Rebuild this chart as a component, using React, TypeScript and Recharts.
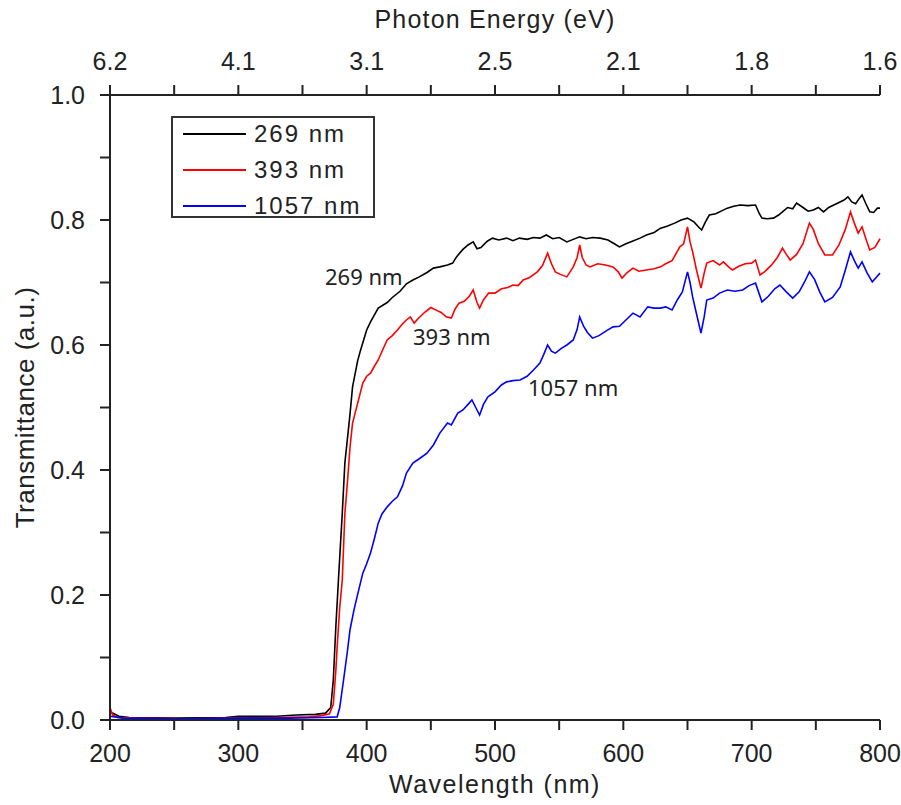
import React from 'react'
import { LineChart, Line, XAxis, YAxis, Label } from 'recharts'

// axis ticks and labels
const wlTicks = [200, 250, 300, 350, 400, 450, 500, 550, 600, 650, 700, 750, 800]
const energyLabels = ['6.2', '4.1', '3.1', '2.5', '2.1', '1.8', '1.6']
const tTicks = [0, 0.1, 0.2, 0.3, 0.4, 0.5, 0.6, 0.7, 0.8, 0.9, 1.0]
const seriesNames = ['269 nm', '393 nm', '1057 nm']
const seriesColors = ['#000000', '#ff0000', '#0000ff']

// 269 nm film
const wl269 = [200, 203, 207, 215, 250, 290, 300, 330, 345, 360, 368, 372, 374, 376, 378, 381, 383, 387, 389, 393, 395, 400, 403, 409, 416, 420, 426, 431, 436, 441, 447, 452, 457, 463, 467, 470, 475, 479, 483, 486, 489, 494, 498, 503, 509, 514, 519, 525, 530, 535, 540, 545, 550, 556, 561, 566, 571, 576, 582, 588, 593, 597, 602, 607, 613, 618, 624, 629, 634, 640, 645, 650, 655, 659, 661, 664, 667, 672, 677, 681, 686, 691, 697, 703, 706, 708, 712, 717, 721, 724, 728, 732, 735, 740, 744, 748, 752, 756, 760, 764, 768, 772, 775, 778, 781, 784, 786, 789, 792, 795, 798, 800]
const t269 = [0.013, 0.01, 0.006, 0.004, 0.003, 0.004, 0.006, 0.006, 0.008, 0.009, 0.011, 0.02, 0.064, 0.15, 0.224, 0.331, 0.411, 0.489, 0.533, 0.575, 0.59, 0.624, 0.637, 0.659, 0.668, 0.676, 0.686, 0.698, 0.704, 0.709, 0.716, 0.723, 0.725, 0.728, 0.731, 0.741, 0.753, 0.76, 0.765, 0.754, 0.756, 0.766, 0.771, 0.768, 0.771, 0.767, 0.771, 0.769, 0.772, 0.771, 0.776, 0.77, 0.772, 0.765, 0.769, 0.773, 0.77, 0.772, 0.771, 0.768, 0.762, 0.757, 0.762, 0.766, 0.771, 0.776, 0.78, 0.787, 0.79, 0.795, 0.8, 0.803, 0.797, 0.788, 0.784, 0.797, 0.808, 0.81, 0.815, 0.819, 0.822, 0.824, 0.823, 0.824, 0.81, 0.803, 0.802, 0.803, 0.808, 0.813, 0.82, 0.818, 0.827, 0.82, 0.814, 0.816, 0.82, 0.813, 0.82, 0.824, 0.828, 0.832, 0.837, 0.829, 0.826, 0.835, 0.84, 0.826, 0.813, 0.812, 0.819, 0.819]

// 393 nm film
const wl393 = [200, 202, 206, 220, 260, 300, 330, 355, 365, 371, 374, 376, 377, 379, 381, 383, 385, 387, 389, 393, 397, 400, 403, 406, 409, 412, 416, 420, 424, 428, 431, 434, 437, 440, 445, 450, 455, 458, 462, 466, 469, 472, 476, 480, 483, 486, 488, 491, 495, 500, 505, 510, 514, 518, 522, 527, 533, 537, 541, 544, 547, 551, 556, 561, 564, 566, 568, 571, 574, 580, 586, 592, 596, 599, 603, 607.5, 612, 618, 624, 629, 633, 638, 644, 647, 650, 652, 654, 657, 660.5, 663, 665, 670, 675, 678, 682, 685, 690, 695, 700, 703, 706.5, 710, 715, 720, 724, 727, 730, 735, 740, 745, 748, 752, 757, 763, 768, 773, 777, 780, 783, 786, 789, 792, 796, 800]
const t393 = [0.02, 0.008, 0.004, 0.003, 0.002, 0.003, 0.004, 0.005, 0.007, 0.01, 0.025, 0.08, 0.117, 0.18, 0.224, 0.33, 0.38, 0.436, 0.475, 0.507, 0.539, 0.55, 0.555, 0.566, 0.576, 0.59, 0.608, 0.615, 0.624, 0.634, 0.64, 0.645, 0.635, 0.642, 0.652, 0.66, 0.655, 0.652, 0.645, 0.643, 0.658, 0.667, 0.67, 0.678, 0.688, 0.668, 0.659, 0.672, 0.683, 0.683, 0.69, 0.692, 0.696, 0.695, 0.704, 0.708, 0.717, 0.727, 0.747, 0.73, 0.717, 0.713, 0.709, 0.725, 0.74, 0.76, 0.74, 0.728, 0.725, 0.73, 0.728, 0.725, 0.717, 0.707, 0.716, 0.723, 0.718, 0.72, 0.722, 0.725, 0.73, 0.735, 0.757, 0.762, 0.789, 0.765, 0.749, 0.72, 0.691, 0.715, 0.731, 0.735, 0.728, 0.733, 0.725, 0.72, 0.726, 0.73, 0.731, 0.736, 0.712, 0.717, 0.727, 0.74, 0.755, 0.745, 0.736, 0.745, 0.762, 0.795, 0.785, 0.762, 0.744, 0.744, 0.76, 0.785, 0.813, 0.795, 0.779, 0.789, 0.77, 0.752, 0.756, 0.77]

// 1057 nm film
const wl1057 = [200, 210, 250, 300, 340, 365, 377, 379, 382, 385, 387, 390, 392.5, 397, 400, 403, 406, 409, 412, 416, 420, 424, 428, 431, 436, 441, 447, 452, 457, 463, 466, 471, 475, 479, 482, 485, 488, 491, 494.5, 500, 505, 509, 514, 519.5, 525, 530, 535, 538, 541, 544, 547, 552, 556, 561, 564, 566, 569, 572, 576, 581, 587, 592, 597, 602, 607.5, 613, 619, 624, 629, 633, 638, 642, 646, 650, 652, 654, 657, 660.5, 663, 665, 670, 675, 681, 687, 693, 698, 703, 708, 713, 718, 722, 727, 732, 737, 741, 745, 749, 753, 757, 763, 769, 773, 777, 780, 783, 786, 790, 794, 797, 800]
const t1057 = [0.006, 0.003, 0.002, 0.003, 0.003, 0.004, 0.005, 0.02, 0.064, 0.11, 0.144, 0.175, 0.197, 0.235, 0.25, 0.267, 0.29, 0.315, 0.33, 0.341, 0.35, 0.357, 0.375, 0.395, 0.411, 0.418, 0.427, 0.44, 0.459, 0.475, 0.472, 0.491, 0.496, 0.505, 0.512, 0.5, 0.488, 0.505, 0.517, 0.525, 0.536, 0.541, 0.543, 0.544, 0.55, 0.56, 0.571, 0.585, 0.6, 0.59, 0.587, 0.595, 0.6, 0.608, 0.625, 0.645, 0.63, 0.62, 0.611, 0.615, 0.623, 0.629, 0.63, 0.64, 0.651, 0.645, 0.661, 0.659, 0.659, 0.661, 0.656, 0.672, 0.685, 0.717, 0.7, 0.677, 0.65, 0.619, 0.645, 0.672, 0.675, 0.683, 0.688, 0.686, 0.688, 0.695, 0.699, 0.669, 0.678, 0.69, 0.696, 0.685, 0.675, 0.685, 0.7, 0.717, 0.705, 0.685, 0.669, 0.676, 0.693, 0.72, 0.749, 0.735, 0.723, 0.733, 0.715, 0.701, 0.708, 0.715]

const series = [
  { wl: wl269, t: t269 },
  { wl: wl393, t: t393 },
  { wl: wl1057, t: t1057 },
].map((s) => s.wl.map((w, i) => ({ wl: w, t: s.t[i] })))

const FONT = '"Liberation Sans", Arial, sans-serif'
const AX = '#222'
const TXT = '#222'
const TICK = 10
const tickLineStyle = { stroke: AX, strokeWidth: 2 }

const isMajorWl = (v: number) => v % 100 === 0
const isMajorT = (v: number) => Math.round(v * 10) % 2 === 0

// only the labels are custom, tick marks come from recharts
const bottomLabel = (p: any) => {
  const v = p.payload.value
  return (
    <g key={`b${v}`}>
      {isMajorWl(v) && (
        <text x={Number(p.x)} y={Number(p.y) + 32} textAnchor="middle" fill={TXT} fontSize={25} fontFamily={FONT}>
          {v}
        </text>
      )}
    </g>
  )
}

const topLabel = (p: any) => {
  const v = p.payload.value
  return (
    <g key={`t${v}`}>
      {isMajorWl(v) && (
        <text x={Number(p.x)} y={Number(p.y) - 15} textAnchor="middle" fill={TXT} fontSize={25} fontFamily={FONT}>
          {energyLabels[Math.round((v - 200) / 100)]}
        </text>
      )}
    </g>
  )
}

const leftLabel = (p: any) => {
  const v = p.payload.value
  return (
    <g key={`l${v}`}>
      {isMajorT(v) && (
        <text x={Number(p.x) - 15} y={Number(p.y) + 9} textAnchor="end" fill={TXT} fontSize={25} fontFamily={FONT}>
          {v.toFixed(1)}
        </text>
      )}
    </g>
  )
}

const noLabel = (p: any) => <g key={`r${p.payload.value}`} />

const App: React.FC = () => {
  return (
    <div style={{ position: 'fixed', left: 0, top: 0, width: 901, height: 805, background: '#fff' }}>
      <LineChart width={901} height={805} margin={{ top: 0, right: 21, bottom: 0, left: 0 }} data={series[0]}>
        <XAxis
          xAxisId="wl"
          dataKey="wl"
          type="number"
          domain={[200, 800]}
          ticks={wlTicks}
          interval={0}
          height={85}
          tickSize={TICK}
          tickMargin={0}
          tickLine={tickLineStyle}
          stroke={AX}
          strokeWidth={2}
          tick={bottomLabel}
        >
          <Label
            value="Wavelength (nm)"
            position="insideBottom"
            offset={12}
            style={{ fontFamily: FONT, fontSize: 25, letterSpacing: 1.5, fill: TXT }}
          />
        </XAxis>
        <XAxis
          xAxisId="top"
          dataKey="wl"
          orientation="top"
          type="number"
          domain={[200, 800]}
          ticks={wlTicks}
          interval={0}
          height={95}
          tickSize={TICK}
          tickMargin={0}
          tickLine={tickLineStyle}
          stroke={AX}
          strokeWidth={2}
          tick={topLabel}
        >
          <Label
            value="Photon Energy (eV)"
            position="insideTop"
            offset={10}
            style={{ fontFamily: FONT, fontSize: 25, letterSpacing: 1.2, fill: TXT }}
          />
        </XAxis>
        <YAxis
          yAxisId="t"
          type="number"
          domain={[0, 1]}
          ticks={tTicks}
          interval={0}
          width={110}
          tickSize={TICK}
          tickMargin={0}
          tickLine={tickLineStyle}
          stroke={AX}
          strokeWidth={2}
          tick={leftLabel}
        >
          <Label
            value="Transmittance (a.u.)"
            angle={-90}
            position="insideLeft"
            offset={25}
            style={{ fontFamily: FONT, fontSize: 26, letterSpacing: 0.5, fill: TXT, textAnchor: 'middle' }}
          />
        </YAxis>
        <YAxis
          yAxisId="r"
          orientation="right"
          mirror
          type="number"
          domain={[0, 1]}
          ticks={tTicks}
          interval={0}
          width={0}
          tickSize={TICK}
          tickMargin={0}
          tickLine={tickLineStyle}
          stroke={AX}
          strokeWidth={2}
          tick={noLabel}
        />
        {/* invisible copy so the top / right frame axes get a scale */}
        <Line
          xAxisId="top"
          yAxisId="r"
          dataKey="t"
          stroke="none"
          dot={false}
          activeDot={false}
          isAnimationActive={false}
        />
        {series.map((d, i) => (
          <Line
            key={seriesNames[i]}
            xAxisId="wl"
            yAxisId="t"
            data={d}
            dataKey="t"
            type="linear"
            stroke={seriesColors[i]}
            strokeWidth={1.6}
            dot={false}
            activeDot={false}
            isAnimationActive={false}
          />
        ))}
      </LineChart>

      {/* legend box */}
      <div
        style={{
          position: 'absolute',
          left: 171,
          top: 116,
          width: 204,
          height: 102,
          border: '2px solid #333',
          background: '#fff',
          boxSizing: 'border-box',
        }}
      >
        {seriesNames.map((name, i) => (
          <div
            key={name}
            style={{ position: 'absolute', left: 10, top: i * 36, height: 32, display: 'flex', alignItems: 'center' }}
          >
            <div style={{ width: 63, height: 2, background: seriesColors[i] }} />
            <span
              style={{ marginLeft: 8, fontFamily: FONT, fontSize: 24, letterSpacing: 2, color: TXT, lineHeight: '32px' }}
            >
              {name}
            </span>
          </div>
        ))}
      </div>

      {/* curve annotations */}
      <svg width={901} height={805} style={{ position: 'absolute', left: 0, top: 0, pointerEvents: 'none' }}>
        <text x={325} y={285} fontFamily='"Noto Sans", sans-serif' fontSize={22} fill="#222">
          {seriesNames[0]}
        </text>
        <text x={413} y={345} fontFamily='"Noto Sans", sans-serif' fontSize={22} fill="#222">
          {seriesNames[1]}
        </text>
        <text x={528} y={396} fontFamily='"Noto Sans", sans-serif' fontSize={22} fill="#222">
          {seriesNames[2]}
        </text>
      </svg>
    </div>
  )
}

export default App
